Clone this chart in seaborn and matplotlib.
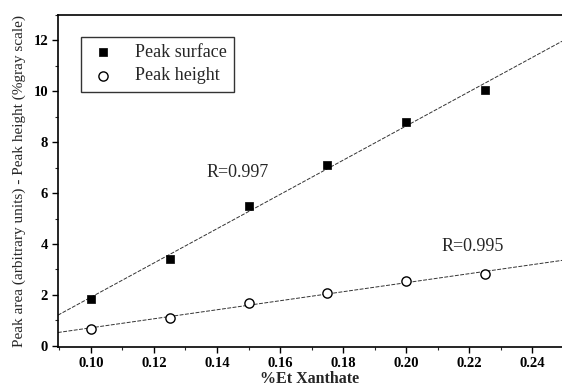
import numpy as np
import pandas as pd
import matplotlib
matplotlib.use("Agg")
import matplotlib.pyplot as plt
import seaborn as sns
from matplotlib.ticker import MultipleLocator

xanthate = [0.100, 0.125, 0.150, 0.175, 0.200, 0.225]
peak_surface = [1.82, 3.41, 5.50, 7.11, 8.80, 10.03]
peak_height = [0.67, 1.09, 1.69, 2.08, 2.54, 2.82]
x_ticks = [0.10, 0.12, 0.14, 0.16, 0.18, 0.20, 0.22, 0.24]
y_ticks = [0, 2, 4, 6, 8, 10, 12]

sns.set_style("ticks")
plt.rcParams['font.family'] = ['Liberation Serif', 'DejaVu Serif']

df = pd.DataFrame({"x": xanthate, "surface": peak_surface, "height": peak_height})

fig = plt.figure(figsize=(5.62, 3.90), dpi=100)
ax = fig.add_axes([0.103, 0.110, 0.897, 0.852])
ax.set_xlim(0.0895, 0.2495)
ax.set_ylim(-0.05, 13.0)

line_kw = dict(color="#333333", lw=0.7, ls=(0, (4, 1.5)))
sns.regplot(data=df, x="x", y="surface", ax=ax, scatter=False, ci=None,
            truncate=False, line_kws=line_kw)
sns.regplot(data=df, x="x", y="height", ax=ax, scatter=False, ci=None,
            truncate=False, line_kws=line_kw)

sns.scatterplot(data=df, x="x", y="surface", ax=ax, marker="s", s=32,
                color="black", edgecolor="black", linewidth=0.5,
                label="Peak surface", zorder=5)
sns.scatterplot(data=df, x="x", y="height", ax=ax, marker="o", s=44,
                facecolor="white", edgecolor="black", linewidth=1.0,
                label="Peak height", zorder=5)

ax.set_xlim(0.0895, 0.2495)
ax.set_ylim(-0.05, 13.0)
ax.set_xticks(x_ticks)
ax.set_xticklabels([f"{v:.2f}" for v in x_ticks])
ax.set_yticks(y_ticks)
ax.xaxis.set_minor_locator(MultipleLocator(0.01))
ax.yaxis.set_minor_locator(MultipleLocator(1))
ax.tick_params(axis="both", which="major", direction="out", length=4,
               width=1.0, labelsize=10.5, colors="black", pad=3)
ax.tick_params(axis="both", which="minor", direction="out", length=2.5, width=0.8)
for lab in ax.get_xticklabels() + ax.get_yticklabels():
    lab.set_fontweight("bold")

for side in ["left", "bottom", "top"]:
    ax.spines[side].set_visible(True)
    ax.spines[side].set_linewidth(1.2)
    ax.spines[side].set_color("black")
ax.spines["right"].set_visible(False)

ax.set_xlabel("%Et Xanthate", fontsize=11.5, fontweight="bold", labelpad=1)
ax.set_ylabel("Peak area (arbitrary units) - Peak height (%gray scale)",
              fontsize=11, labelpad=5)

ax.text(0.1367, 6.8, "R=0.997", fontsize=13, va="center", ha="left")
ax.text(0.2113, 3.9, "R=0.995", fontsize=13, va="center", ha="left")

leg = ax.legend(loc="upper left", bbox_to_anchor=(0.046, 0.934), frameon=True,
                fancybox=False, edgecolor="black", fontsize=13,
                handletextpad=1.0, borderpad=0.4, labelspacing=0.35,
                handlelength=1.6, borderaxespad=0)
leg.get_frame().set_linewidth(1.0)

fig.savefig("out.png", dpi=100)
